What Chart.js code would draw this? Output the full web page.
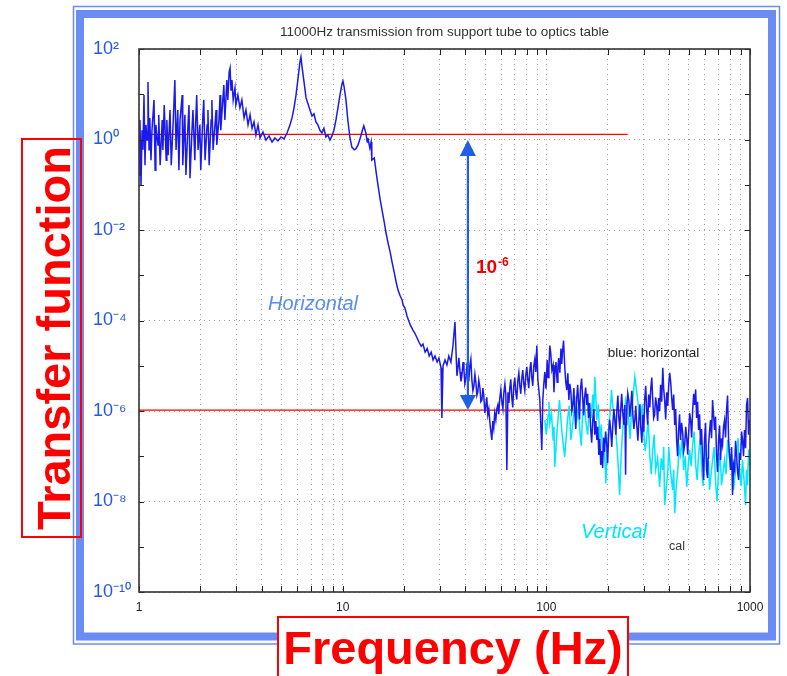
<!DOCTYPE html>
<html><head><meta charset="utf-8">
<script src="https://cdn.jsdelivr.net/npm/chart.js@4/dist/chart.umd.min.js"></script>
<style>html,body{margin:0;padding:0;background:#fff}canvas{display:block}</style>
</head><body>
<canvas id="c" width="787" height="676"></canvas>
<script>
// ---- data: [frequency Hz, transfer function] ----
const horizontal = [
[1.00,0.164],[1.011,2.7],[1.023,0.099],[1.035,1.6],[1.046,0.59],[1.058,9.6],[1.07,0.27],[1.082,2.1],[1.095,0.97],[1.107,18.7],
[1.12,0.59],[1.13,3.0],[1.145,0.35],[1.158,1.6],[1.185,7.5],[1.20,0.21],[1.21,2.1],[1.24,0.76],[1.25,3.5],[1.27,0.27],
[1.30,2.7],[1.31,0.59],[1.33,5.8],[1.36,0.35],[1.37,2.7],[1.39,0.45],[1.42,4.5],[1.44,0.27],[1.47,2.1],[1.50,20.6],
[1.52,0.59],[1.55,4.5],[1.57,0.21],[1.59,2.7],[1.63,9.6],[1.64,0.27],[1.68,3.5],[1.70,0.164],[1.74,2.1],[1.76,5.8],
[1.78,0.14],[1.82,1.6],[1.84,4.5],[1.88,0.35],[1.90,2.7],[1.92,9.6],[1.95,0.59],[1.99,2.1],[2.01,0.21],[2.06,3.5],
[2.08,7.5],[2.11,0.35],[2.16,2.1],[2.18,4.5],[2.21,0.27],[2.26,2.7],[2.28,7.5],[2.31,0.59],[2.36,2.1],[2.39,4.5],
[2.41,0.76],[2.47,2.7],[2.50,9.6],[2.52,1.6],[2.58,7.5],[2.61,16],[2.64,2.7],[2.70,20.6],[2.73,7.5],[2.77,31],
[2.80,38],[2.83,12.4],[2.86,20.6],[2.90,7.5],[2.96,13.7],[2.99,5.8],[3.06,9.6],[3.13,5.0],[3.20,7.5],[3.28,3.0],
[3.35,4.5],[3.43,2.1],[3.51,3.5],[3.59,1.77],[3.67,2.44],[3.75,1.26],[3.84,2.1],[3.93,1.08],[4.06,1.47],[4.20,0.97],
[4.35,1.2],[4.50,0.88],[4.65,1.08],[4.81,0.93],[4.98,1.14],[5.15,1.03],[5.33,1.39],[5.51,2.1],[5.64,3.0],[5.77,5.0],
[5.90,9.6],[6.04,22.8],[6.17,51.6],[6.24,66.5],[6.31,42],[6.46,18.7],[6.61,8.3],[6.76,6.1],[6.91,4.5],[7.07,3.3],
[7.23,3.7],[7.39,2.44],[7.56,2.1],[7.73,1.6],[7.91,1.39],[8.09,1.77],[8.27,1.14],[8.46,1.26],[8.66,0.97],[8.86,1.2],
[9.06,1.6],[9.27,2.7],[9.48,5.0],[9.70,9.6],[9.92,16.9],[10.03,19.6],[10.15,15.2],[10.38,7.5],[10.6,2.7],[10.86,1.08],
[11.1,0.68],[11.4,0.59],[11.6,0.62],[11.9,0.76],[12.2,1.08],[12.5,1.6],[12.7,2.0],[13.0,1.39],[13.2,0.88],[13.3,1.08],
[13.6,0.65],[13.8,0.88],[13.9,0.35],[14.3,0.39],[14.6,0.19],[14.9,0.099],[15.3,0.046],[15.6,0.028],[16.0,0.015],[16.3,0.009],
[16.7,0.0052],[17.1,0.0033],[17.5,0.0019],[17.9,0.00117],[18.3,7.1e-4],[18.7,4.7e-4],[19.1,3.6e-4],[19.6,2.8e-4],[19.8,2.2e-4],[20.2,1.9e-4],
[20.7,1.26e-4],[21.2,9.3e-5],[21.6,7.6e-5],[22.1,6.2e-5],[22.7,5.1e-5],[23.2,4.1e-5],[23.7,3.3e-5],[24.3,2.7e-5],[24.8,3.0e-5],[25.4,2.0e-5],
[26.0,2.4e-5],[26.6,1.64e-5],[27.2,2.0e-5],[27.8,1.34e-5],[28.4,1.64e-5],[29.1,1.21e-5],[29.7,1.48e-5],[30.4,9.0e-6],[30.7,7.0e-7],[31.1,9.9e-6],
[31.8,1.34e-5],[32.5,1.04e-5],[33.2,1.64e-5],[34.0,1.21e-5],[34.8,2.8e-5],[35.6,9.3e-5],[36.0,2.2e-5],[36.4,6.0e-6],[36.8,9.0e-6],[37.2,1.5e-5],
[37.7,7.3e-6],[38.1,4.5e-6],[38.5,6.0e-6],[39.0,1.2e-5],[39.4,8.1e-6],[39.8,4.0e-6],[40.3,5.3e-6],[40.7,9.5e-6],[41.2,7.3e-6],[41.6,4.5e-6],
[42.1,9.9e-6],[42.6,1.4e-5],[43.1,4.8e-6],[43.6,2.8e-6],[44.1,3.6e-6],[44.6,6.5e-6],[45.1,4.3e-6],[45.6,2.2e-6],[46.1,2.6e-6],[46.6,4.8e-6],
[47.2,3.3e-6],[47.7,1.6e-6],[48.3,1.75e-6],[48.8,3.2e-6],[49.3,2.2e-6],[49.9,9.0e-7],[50.5,1.36e-6],[51.0,2.0e-6],[51.6,8.2e-7],[52.2,1.1e-6],
[52.8,5.7e-7],[53.4,3.5e-7],[54.0,2.3e-7],[54.6,6.0e-7],[55.2,4.2e-7],[55.8,9.0e-7],[56.5,6.3e-7],[57.1,1.1e-6],[57.8,1.36e-6],[58.4,8.5e-7],
[59.1,1.94e-6],[59.8,3.0e-6],[60.5,1.58e-6],[61.2,1.1e-6],[61.9,2.6e-6],[62.6,4.0e-6],[63.3,2.2e-6],[64.0,5.0e-8],[64.8,2.6e-6],[65.5,1.5e-6],
[66.2,3.3e-6],[66.9,5.0e-6],[67.7,1.94e-6],[68.4,1.2e-6],[69.2,3.6e-6],[70.0,5.5e-6],[70.8,2.6e-6],[71.6,1.8e-6],[72.5,4.8e-6],[73.3,7.0e-6],
[74.1,3.6e-6],[74.9,2.4e-6],[75.8,5.3e-6],[76.6,8.0e-6],[77.5,4.0e-6],[78.4,2.8e-6],[79.3,6.3e-6],[80.2,9.5e-6],[81.1,4.8e-6],[82.0,3.2e-6],
[83.0,8.1e-6],[84.0,1.2e-5],[84.9,5.3e-6],[85.8,3.6e-6],[86.8,9.9e-6],[87.8,1.4e-5],[88.8,7.3e-6],[89.8,2.8e-5],[90.9,4.8e-6],[92.9,1.75e-6],
[95.0,1.37e-7],[96.1,1.75e-6],[97.2,4.0e-6],[98.3,7.3e-6],[99.6,3.1e-6],[101,1.34e-5],[102,5.5e-6],[103,9.0e-6],[104,2.8e-5],[105,2.0e-5],
[106.5,8.0e-6],[108,1.04e-5],[109,2.6e-6],[110,6.3e-6],[111.5,1.2e-5],[113,4.3e-6],[114,9.5e-6],[115,1.48e-5],[116.5,7.0e-6],[118,2.4e-5],
[119,1.1e-5],[120,2.0e-5],[121.5,3.6e-5],[123,1.04e-5],[124.5,4.5e-6],[126,2.9e-6],[127.5,6.8e-6],[129,1.75e-6],[130.5,4.0e-6],[132,2.6e-6],
[133.5,1.0e-6],[135,1.36e-6],[136.5,3.2e-6],[138,9.5e-7],[139.5,4.0e-7],[141,1.94e-6],[142.5,3.8e-6],[144,1.58e-6],[145.5,6.5e-7],[147,2.9e-6],
[149,5.2e-6],[151,1.75e-6],[152.5,8.0e-7],[154,1.94e-6],[156,3.3e-6],[158,1.36e-6],[159.5,2.4e-6],[161,7.0e-7],[163,1.5e-6],[165,4.2e-7],
[167,2.0e-7],[169,6.3e-7],[171,1.1e-6],[173,3.0e-7],[175,6.0e-7],[177,2.3e-7],[179,4.5e-7],[181,1.07e-7],[183,2.4e-7],[185,6.4e-8],
[187,1.3e-7],[189,5.5e-8],[191,2.6e-7],[193,1.24e-7],[195.5,3.5e-7],[198,1.8e-7],[200,7.0e-8],[202,2.5e-7],[204.5,6.5e-7],[207,3.8e-7],
[209.5,1.6e-7],[212,4.9e-7],[214.5,1.1e-6],[217,6.3e-7],[219.5,3.0e-7],[222,1.05e-6],[224.5,2.2e-6],[227,7.0e-7],[229.5,4.0e-7],[232,1.16e-6],
[234.5,2.4e-6],[237,9.5e-7],[240,5.0e-7],[243,1.36e-6],[245,3.9e-8],[246.5,5.0e-7],[248,1.05e-6],[251,2.5e-6],[254,1.75e-6],[257,7.5e-7],
[260,1.36e-6],[263,2.8e-6],[266,8.2e-7],[269,4.0e-7],[272,6.3e-7],[275,1.3e-6],[278,4.9e-7],[281.5,2.2e-7],[285,7.0e-7],[288,1.4e-6],
[291,4.2e-7],[294.5,2.0e-7],[298,8.2e-7],[301,3.5e-7],[304,1.75e-6],[307.5,3.6e-6],[311,1.05e-6],[314.5,5.0e-7],[318,2.3e-6],[322,1.2e-6],
[326,3.3e-6],[329.5,5.5e-6],[333,1.75e-6],[336.5,7.0e-7],[340,8.2e-7],[344,2.0e-6],[348,1.36e-6],[352,6.0e-7],[356,1.94e-6],[360,1.0e-6],
[364,3.8e-6],[368.5,1.6e-6],[373,9.0e-6],[377,3.0e-6],[381,1.75e-6],[385.5,6.5e-7],[390,2.6e-6],[394.5,1.3e-6],[399,3.8e-6],[403.5,7.0e-6],
[408,4.3e-6],[412.5,2.0e-6],[417,1.05e-6],[422,2.3e-6],[427,4.9e-7],[431.5,1.1e-6],[436,2.5e-7],[441,1.0e-7],[446,3.8e-7],[451,8.5e-7],
[456,2.3e-7],[461.5,5.5e-7],[467,3.4e-7],[472.5,1.3e-7],[478,1.8e-7],[483.5,4.5e-7],[489,2.5e-7],[494.5,1.1e-7],[500,3.4e-7],[505.5,9.0e-7],
[511,6.3e-7],[517,2.6e-7],[523,1.05e-6],[529,2.4e-6],[535,1.36e-6],[541,3.0e-6],[547,7.0e-7],[553,1.6e-6],[559,3.8e-7],[565.5,8.5e-7],
[572,1.8e-7],[578.5,4.0e-7],[585,8.3e-8],[591.5,3.0e-8],[598,2.3e-7],[605,5.5e-7],[612,5.0e-8],[619,3.3e-8],[622.5,9.0e-8],[626,1.8e-7],
[633,3.5e-7],[640,6.3e-7],[647.5,2.5e-7],[655,1.75e-6],[662.5,8.0e-7],[670,3.8e-7],[677.5,7.5e-7],[685,1.07e-7],[693,4.5e-8],[701,2.3e-7],
[709,4.8e-7],[717,8.3e-8],[725,2.5e-7],[733,1.8e-7],[741.5,4.5e-7],[750,6.3e-7],[758.5,2.6e-7],[767,1.05e-6],[776,2.2e-6],[785,2.3e-7],
[794,1.0e-7],[803,5.0e-8],[812,1.6e-7],[821,1.4e-8],[830.5,6.5e-8],[840,5.0e-8],[849.5,2.2e-7],[859,1.07e-7],[869,4.5e-8],[879,3.0e-8],
[889,1.2e-7],[899,8.3e-8],[909,3.5e-7],[919,2.3e-7],[929.5,1.0e-7],[940,3.8e-7],[951,1.5e-7],[962,1.36e-6],[973,1.94e-6],[984,3.0e-7],
[995,6.3e-7]
];
const vertical = [
[98.3,6.3e-7],[100,3.0e-7],[102,8.2e-7],[103,1.6e-6],[104,5.4e-7],[106,9.0e-7],[108,2.3e-7],[109,4.5e-7],[110,5.8e-8],[111.5,1.5e-7],
[113,3.8e-7],[114.5,8.0e-7],[116,1.75e-6],[117.5,8.5e-7],[119,3.8e-7],[121,1.9e-7],[123,9.7e-8],[125,2.4e-7],[127,6.3e-7],[129.5,1.3e-6],
[132,2.3e-7],[134,4.0e-7],[136,8.2e-7],[138.5,1.6e-6],[141,6.3e-7],[143.5,1.2e-6],[146,3.8e-7],[148.5,1.7e-7],[151,1.05e-6],[153.5,2.0e-6],
[156,6.3e-7],[159.5,3.0e-7],[163,1.5e-6],[166,7.0e-7],[169,2.3e-6],[171,9.0e-7],[173,5.7e-6],[175,2.0e-6],[177,6.3e-7],[180,1.4e-6],
[183,2.3e-7],[186,5.0e-7],[189,9.7e-8],[192.5,2.0e-7],[196,2.5e-8],[199,1.2e-7],[202,3.8e-7],[205.5,9.0e-7],[209,2.9e-6],[212,1.2e-6],
[215,1.05e-6],[218.5,4.5e-7],[222,1.8e-7],[225.5,6.0e-8],[229,1.4e-8],[233,1.0e-7],[237,3.8e-7],[241,8.0e-7],[245,1.75e-6],[249.5,1.2e-6],
[254,6.3e-7],[258,2.4e-7],[262,1.05e-6],[267,2.2e-6],[272,5.7e-6],[276.5,3.0e-6],[281,1.75e-6],[286,8.0e-7],[291,6.3e-7],[296,1.4e-6],
[301,3.0e-7],[306,1.3e-7],[311,2.7e-7],[316.5,6.0e-7],[322,1.07e-7],[327.5,4.0e-8],[333,1.37e-7],[338.5,3.0e-7],[344,5.0e-8],[352,9.0e-8],
[360,2.1e-8],[366.5,9.0e-8],[373,5.0e-8],[377,1.6e-7],[381,8.4e-9],[388,2.0e-8],[395,5.0e-8],[399,1.6e-7],[403,8.3e-8],[410,3.5e-8],
[417,1.8e-8],[422,5.0e-8],[427,5.5e-9],[434.5,2.2e-8],[442,5.0e-8],[449,1.6e-7],[456,1.07e-7],[464,2.5e-7],[472,5.0e-8],[480.5,1.0e-7],
[489,2.1e-8],[497,6.0e-8],[505,1.37e-7],[514,6.0e-8],[523,1.8e-7],[532,3.5e-7],[541,6.4e-8],[550,3.0e-8],[559,1.07e-7],[569,2.5e-7],
[579,5.0e-8],[588.5,2.2e-8],[598,8.3e-8],[608.5,1.8e-7],[619,3.9e-8],[626,8.0e-8],[633,1.8e-8],[644,4.0e-8],[655,8.3e-8],[666,1.6e-7],
[677,3.0e-8],[689,1.0e-8],[701,5.0e-8],[713,1.2e-7],[725,2.3e-8],[737.5,4.5e-8],[750,8.3e-8],[763,4.0e-8],[776,2.3e-7],[789.5,1.1e-7],
[803,5.0e-8],[816.5,1.1e-7],[830,1.8e-8],[844.5,4.0e-8],[859,1.07e-7],[874,2.5e-7],[889,5.0e-8],[904,2.2e-8],[919,8.3e-8],[935,3.0e-8],
[951,8.4e-9],[962,5.0e-8],[973,2.3e-8],[984,1.4e-7],[995,6.4e-8]
];
const refUpper = [[1.05,1.3],[251,1.3]];
const refLower = [[1.0,1.05e-6],[251,1.05e-6]];
const arrowSpan = [41.2, 0.97, 1.05e-6];   // frequency, top value, bottom value
const xTicks = [1,2,3,4,5,6,7,8,9,10,20,30,40,50,60,70,80,90,100,200,300,400,500,600,700,800,900,1000];
const xTickLabels = ['1','','','','','','','','','10','','','','','','','','','100','','','','','','','','','1000'];
const yTicks = [1e-10,1e-9,1e-8,1e-7,1e-6,1e-5,1e-4,1e-3,1e-2,1e-1,1e0,1e1,1e2];
const yTickLabels = ['10⁻¹⁰','','10⁻⁸','','10⁻⁶','','10⁻⁴','','10⁻²','','10⁰','','10²'];
const titleText = '11000Hz transmission from support tube to optics table';

// ---- styling ----
const FONT = '"Liberation Sans", Arial, Helvetica, sans-serif';
const FRAME = '#6a8cf4';
const GRID = 'rgba(0,0,0,0.38)';
const toXY = a => a.map(p => ({x: p[0], y: p[1]}));

const decor = {
  id: 'decor',
  beforeDraw(chart) {
    const c = chart.ctx;
    c.save();
    c.fillStyle = '#fff'; c.fillRect(0, 0, chart.width, chart.height);
    c.strokeStyle = FRAME;
    c.lineWidth = 8; c.strokeRect(80, 14, 692, 622.5);
    c.lineWidth = 1.5; c.strokeRect(73.5, 6.5, 706, 637.5);
    c.restore();
  },
  afterDatasetsDraw(chart) {
    const c = chart.ctx, a = chart.chartArea, xs = chart.scales.x, ys = chart.scales.y;
    c.save();
    c.strokeStyle = '#222'; c.lineWidth = 1;
    c.beginPath();
    xs.ticks.forEach(t => {
      const px = Math.round(xs.getPixelForValue(t.value)) + 0.5;
      c.moveTo(px, a.bottom); c.lineTo(px, a.bottom - 6);
      c.moveTo(px, a.top); c.lineTo(px, a.top + 6);
    });
    ys.ticks.forEach(t => {
      const py = Math.round(ys.getPixelForValue(t.value)) + 0.5;
      c.moveTo(a.left, py); c.lineTo(a.left + 5, py);
      c.moveTo(a.right, py); c.lineTo(a.right - 5, py);
    });
    c.stroke();
    c.lineWidth = 1.6; c.strokeStyle = '#333';
    c.strokeRect(a.left, a.top, a.right - a.left, a.bottom - a.top);
    c.restore();
  },
  afterDraw(chart) {
    const c = chart.ctx, xs = chart.scales.x, ys = chart.scales.y;
    const X = f => xs.getPixelForValue(f), Y = v => ys.getPixelForValue(v);
    c.save();
    // double arrow
    const ax = X(arrowSpan[0]), at = Y(arrowSpan[1]), ab = Y(arrowSpan[2]);
    c.strokeStyle = '#1f5fe6'; c.fillStyle = '#1f5fe6'; c.lineWidth = 2.2;
    c.beginPath(); c.moveTo(ax, at + 14); c.lineTo(ax, ab - 14); c.stroke();
    c.beginPath(); c.moveTo(ax, at); c.lineTo(ax - 8, at + 16); c.lineTo(ax + 8, at + 16); c.closePath(); c.fill();
    c.beginPath(); c.moveTo(ax, ab); c.lineTo(ax - 8, ab - 15); c.lineTo(ax + 8, ab - 15); c.closePath(); c.fill();
    // 10^-6 label
    c.fillStyle = '#ee0000'; c.textBaseline = 'alphabetic'; c.textAlign = 'left';
    c.font = 'bold 19px ' + FONT;
    const lx = X(45.1), ly = Y(1.1e-3);
    c.fillText('10', lx, ly);
    const w10 = c.measureText('10').width;
    c.font = 'bold 12px ' + FONT;
    c.fillText('-6', lx + w10 + 1, ly - 7);
    // series notes
    c.textBaseline = 'middle';
    c.font = 'italic 20px ' + FONT; c.fillStyle = '#5b8cf0';
    c.fillText('Horizontal', X(4.3), Y(2.3e-4));
    c.fillStyle = '#00e5ff';
    c.fillText('Vertical', X(148), Y(2.1e-9));
    c.font = '13.5px ' + FONT; c.fillStyle = '#222';
    c.fillText('blue: horizontal', X(200), Y(1.9e-5));
    c.font = '12.5px ' + FONT; c.fillStyle = '#333';
    c.fillText('cal', X(400), Y(9.9e-10));
    // big axis captions in red boxes
    c.strokeStyle = '#ff0000'; c.lineWidth = 2;
    c.strokeRect(22, 139, 59, 398);
    c.fillStyle = '#fff'; c.fillRect(278, 617, 350, 80);
    c.strokeRect(278, 617, 350, 80);
    c.fillStyle = '#ff0000'; c.font = 'bold 47px ' + FONT;
    c.textAlign = 'center'; c.textBaseline = 'alphabetic';
    c.fillText('Frequency (Hz)', 453, 664);
    c.translate(70, 338); c.rotate(-Math.PI / 2);
    c.fillText('Transfer function', 0, 0);
    c.restore();
  }
};

new Chart(document.getElementById('c'), {
  type: 'line',
  data: {
    datasets: [
      {label: 'horizontal', data: toXY(horizontal), borderColor: '#1a1aee', borderWidth: 1.5, pointRadius: 0, tension: 0},
      {label: 'vertical', data: toXY(vertical), borderColor: '#00e8ff', borderWidth: 1.5, pointRadius: 0, tension: 0},
      {label: 'ref1', data: toXY(refUpper), borderColor: '#ff0000', borderWidth: 1.2, pointRadius: 0},
      {label: 'ref2', data: toXY(refLower), borderColor: '#ff0000', borderWidth: 1.2, pointRadius: 0}
    ]
  },
  options: {
    responsive: false, animation: false, events: [],
    layout: {padding: {left: 93, right: 37, top: 20, bottom: 0}},
    plugins: {
      legend: {display: false}, tooltip: {enabled: false},
      title: {display: true, text: titleText, fullSize: false, color: '#333',
              font: {family: FONT, size: 13.5, weight: 'normal'}, padding: {top: 4, bottom: 8.8}}
    },
    scales: {
      x: {
        type: 'logarithmic', min: 1, max: 1000,
        afterBuildTicks: s => { s.ticks = xTicks.map(v => ({value: v})); },
        afterFit: s => { s.height = 84; },
        ticks: {autoSkip: false, maxRotation: 0, padding: 8, color: '#222',
                font: {family: FONT, size: 12}, callback: (v, i) => xTickLabels[i]},
        grid: {drawTicks: false, color: GRID, lineWidth: 1},
        border: {display: false, dash: [1, 4]}
      },
      y: {
        type: 'logarithmic', min: 1e-10, max: 1e2,
        afterBuildTicks: s => { s.ticks = yTicks.map(v => ({value: v})); },
        afterFit: s => { s.width = 46; },
        ticks: {autoSkip: false, crossAlign: 'far', color: '#2458e6',
                font: {family: FONT, size: 18}, callback: (v, i) => yTickLabels[i]},
        grid: {drawTicks: false, lineWidth: 1, color: c => (yTickLabels[c.index] ? GRID : 'rgba(0,0,0,0)')},
        border: {display: false, dash: [1, 4]}
      }
    }
  },
  plugins: [decor]
});
</script>
</body></html>
